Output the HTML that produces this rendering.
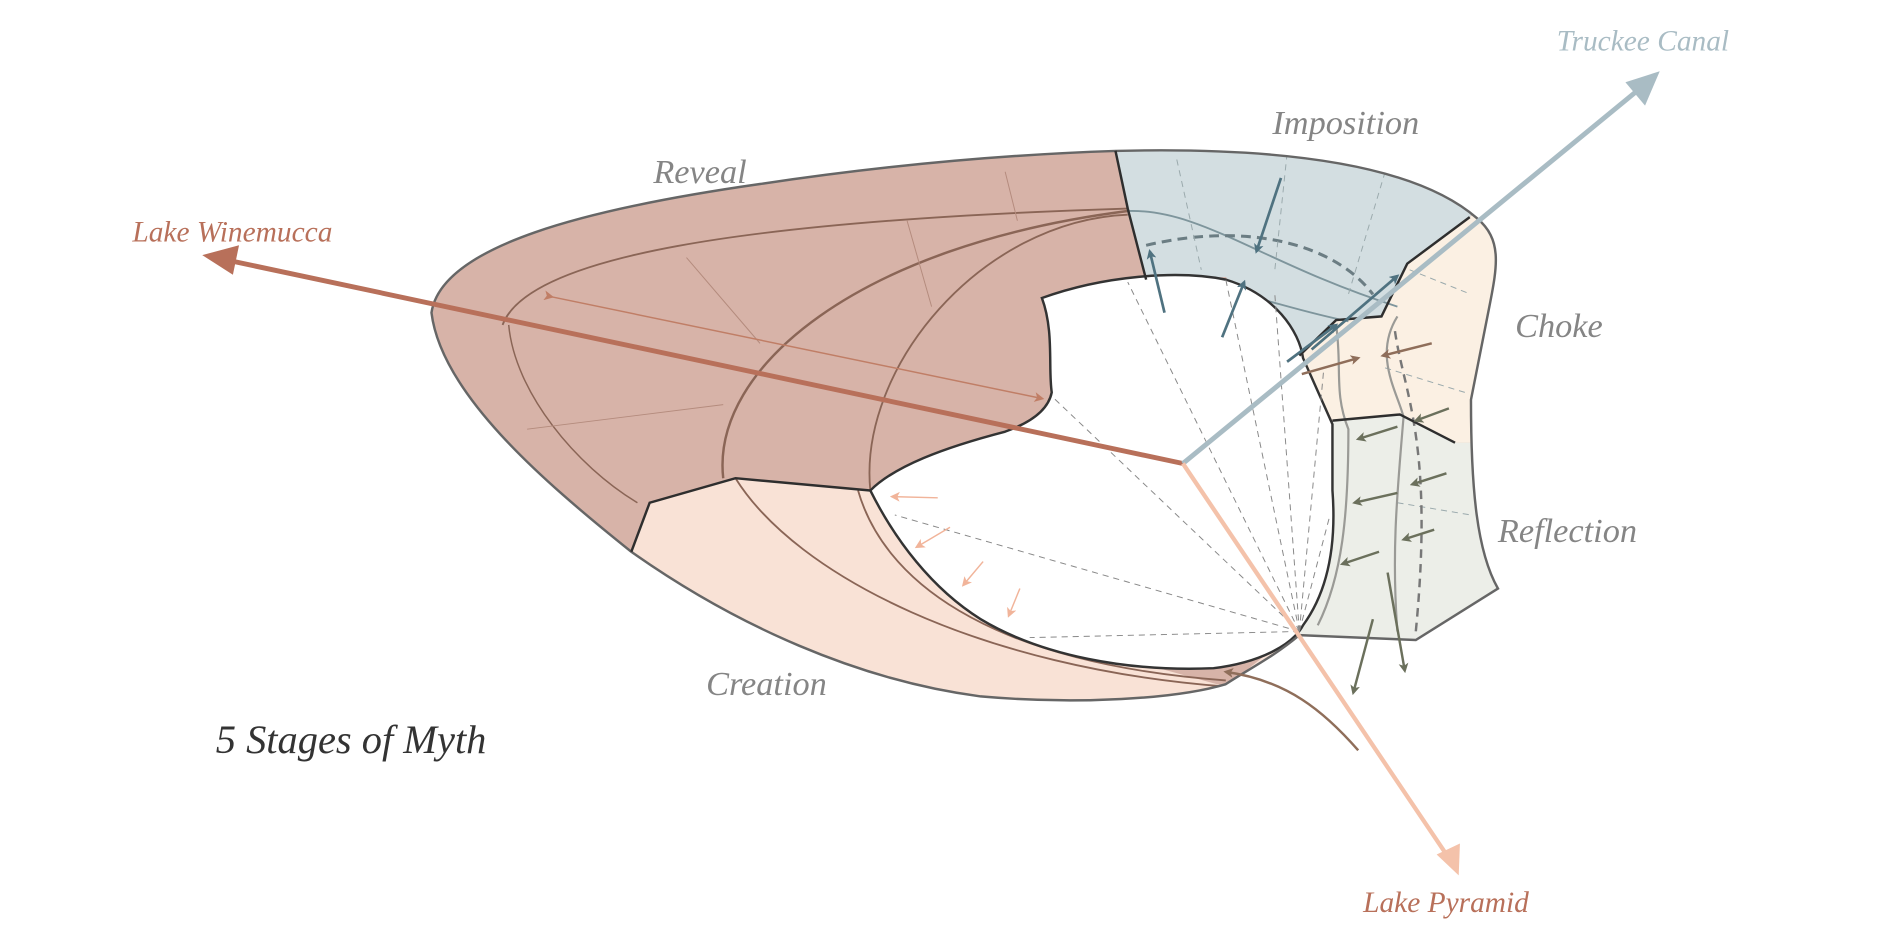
<!DOCTYPE html>
<html><head><meta charset="utf-8"><style>
html,body{margin:0;padding:0;background:#fff;}
svg{display:block;}
text{font-family:"Liberation Serif",serif;font-style:italic;}
</style></head><body>
<svg width="1900" height="927" viewBox="0 0 1550 756" xmlns="http://www.w3.org/2000/svg">
<defs>
<clipPath id="outer"><path d="M352,255 C360,200 480,170 620,150 C720,135 820,126 910,123 C1030,120 1150,130 1205,178 C1225,195 1222,215 1215,250 L1200,326 C1200,400 1205,450 1222,480 L1155,522 L1060,518 C1040,535 1020,545 1000,558 C960,570 880,575 800,568 C700,555 600,510 515,450 C440,390 360,320 352,255 Z"/></clipPath>
<marker id="ab" markerWidth="8" markerHeight="8" refX="6" refY="4" orient="auto" markerUnits="userSpaceOnUse" viewBox="0 0 8 8"><path d="M0,0 L8,4 L0,8 L2,4Z" fill="context-stroke"/></marker>
</defs>
<g clip-path="url(#outer)">
<rect x="300" y="80" width="1000" height="520" fill="#d7b3a8"/>
<polygon points="910,123 920,170 935,228 1000,226 1063,292 1090,262 1127,258 1148,215 1199,177 1260,100 900,60" fill="#d3dee1"/>
<polygon points="1199,177 1148,215 1127,258 1090,261 1060,290 1087,343 1142,338 1187,361 1300,361 1300,100" fill="#fbf0e3"/>
<polygon points="1087,343 1142,338 1187,361 1300,361 1300,620 1040,620 1047,516" fill="#eceee8"/>
<polygon points="380,450 515,450 530,410 600,390 710,400 800,505 1000,560 1063,510 1047,516 1040,620 380,620" fill="#f9e2d6"/>
<g fill="none" stroke="#8a6556" stroke-width="1.5">
<path d="M410,265 C430,210 600,180 920,170"/>
<path d="M415,265 C420,320 470,380 520,410" stroke-width="1.2"/>
<path d="M590,390 C580,300 700,200 920,172" stroke-width="2"/>
<path d="M710,400 C700,300 800,180 920,175" stroke-width="1.5"/>
<path d="M700,400 C720,470 800,540 1000,555" />
<path d="M600,390 C650,470 800,545 1000,560"/>
</g>
<g fill="none" stroke="#b48b7d" stroke-width="0.8">
<line x1="560" y1="210" x2="620" y2="280"/><line x1="820" y1="140" x2="830" y2="180"/>
<line x1="430" y1="350" x2="590" y2="330"/><line x1="740" y1="180" x2="760" y2="250"/>
</g>
<g fill="none" stroke="#7e959c" stroke-width="1.5">
<path d="M920,172 C980,170 1030,215 1140,250"/>
<path d="M935,230 C1000,230 1040,250 1100,262"/>
</g>
<path d="M935,200 C1020,180 1090,200 1120,240" fill="none" stroke="#6b7d83" stroke-width="2.5" stroke-dasharray="8,5"/>
<g stroke="#9aa9ac" stroke-width="0.8" stroke-dasharray="5,4" fill="none">
<line x1="960" y1="130" x2="980" y2="220"/><line x1="1050" y1="125" x2="1040" y2="220"/><line x1="1130" y1="140" x2="1100" y2="240"/>
<line x1="1150" y1="220" x2="1200" y2="240"/><line x1="1130" y1="300" x2="1195" y2="320"/><line x1="1140" y1="410" x2="1200" y2="420"/>
</g>
<g fill="none" stroke="#9a9a96" stroke-width="1.8">
<path d="M1140,258 C1120,290 1140,320 1145,340 C1140,400 1135,450 1140,515"/>
<path d="M1090,265 C1095,300 1088,320 1100,350 C1100,420 1095,470 1075,510"/>
</g>
<path d="M1138,270 C1145,320 1170,360 1155,515" fill="none" stroke="#777" stroke-width="2" stroke-dasharray="7,5"/>
</g>
<path d="M850,243 C860,270 855,300 858,320 C855,335 840,345 820,352 C770,365 730,380 710,400 C730,440 760,480 800,505 C850,535 920,548 990,545 C1030,540 1055,525 1063,510 C1085,480 1090,440 1087,400 L1087,346 L1063,292 C1060,270 1040,240 1000,228 C960,220 900,225 850,243 Z" fill="#fff" stroke="#333" stroke-width="2"/>
<g stroke="#888" stroke-width="0.8" stroke-dasharray="5,4" fill="none">
<line x1="1060" y1="515" x2="860" y2="325"/><line x1="1060" y1="515" x2="920" y2="230"/><line x1="1060" y1="515" x2="1000" y2="228"/>
<line x1="1060" y1="515" x2="1040" y2="240"/><line x1="1060" y1="515" x2="1080" y2="300"/><line x1="1060" y1="515" x2="730" y2="420"/>
<line x1="1060" y1="515" x2="840" y2="520"/><line x1="1060" y1="515" x2="1085" y2="420"/>
</g>
<path d="M352,255 C360,200 480,170 620,150 C720,135 820,126 910,123 C1030,120 1150,130 1205,178 C1225,195 1222,215 1215,250 L1200,326 C1200,400 1205,450 1222,480 L1155,522 L1060,518 C1040,535 1020,545 1000,558 C960,570 880,575 800,568 C700,555 600,510 515,450 C440,390 360,320 352,255 Z" fill="none" stroke="#666" stroke-width="2"/>
<g fill="none" stroke="#2e2e2e" stroke-width="2">
<polyline points="910,123 920,170 935,228"/>
<polyline points="515,450 530,410 600,390 710,400"/>
<polyline points="1199,177 1148,215 1127,258 1090,261 1060,290"/>
<polyline points="1087,343 1142,338 1187,361"/>
</g>
<line x1="965" y1="378" x2="185" y2="212" stroke="#b8705a" stroke-width="4"/>
<polygon points="165,208 195,200 190,224" fill="#b8705a"/>
<line x1="965" y1="378" x2="1338" y2="72" stroke="#a9bcc4" stroke-width="4"/>
<polygon points="1354,58 1342,86 1326,67" fill="#a9bcc4"/>
<line x1="965" y1="378" x2="1182" y2="700" stroke="#f4c2aa" stroke-width="3.5"/>
<polygon points="1190,714 1172,697 1191,688" fill="#f4c2aa"/>
<line x1="450" y1="242" x2="850" y2="325" stroke="#c07e66" stroke-width="1.2" marker-start="url(#ab)" marker-end="url(#ab)"/>
<g stroke="#4f7280" stroke-width="2.2" marker-end="url(#ab)">
<line x1="950" y1="255" x2="938" y2="205"/><line x1="997" y1="275" x2="1015" y2="230"/>
<line x1="1045" y1="145" x2="1025" y2="205"/><line x1="1050" y1="295" x2="1090" y2="265"/>
<line x1="1070" y1="285" x2="1140" y2="225"/>
</g>
<g stroke="#8f6e5a" stroke-width="2" marker-end="url(#ab)">
<line x1="1062" y1="305" x2="1108" y2="292"/><line x1="1168" y1="280" x2="1128" y2="290"/>
<path d="M1108,612 C1080,580 1050,555 1000,548" fill="none"/>
</g>
<g stroke="#6b705c" stroke-width="2" marker-end="url(#ab)">
<line x1="1182" y1="333" x2="1155" y2="343"/><line x1="1140" y1="348" x2="1108" y2="358"/>
<line x1="1180" y1="386" x2="1152" y2="395"/><line x1="1140" y1="402" x2="1105" y2="410"/>
<line x1="1170" y1="432" x2="1145" y2="440"/><line x1="1125" y1="450" x2="1095" y2="460"/>
<line x1="1120" y1="505" x2="1104" y2="565"/><line x1="1132" y1="467" x2="1146" y2="547"/>
</g>
<g stroke="#f1b49a" stroke-width="1.2" marker-end="url(#ab)">
<line x1="765" y1="406" x2="728" y2="405"/><line x1="775" y1="430" x2="748" y2="446"/>
<line x1="802" y1="458" x2="786" y2="477"/><line x1="832" y1="480" x2="823" y2="502"/>
</g>
<g fill="#858585" font-size="28">
<text x="533" y="149">Reveal</text>
<text x="1038" y="109">Imposition</text>
<text x="1236" y="275">Choke</text>
<text x="1222" y="442">Reflection</text>
<text x="576" y="567">Creation</text>
</g>
<text x="1270" y="41" fill="#a9bcc4" font-size="24">Truckee Canal</text>
<text x="108" y="197" fill="#b8705a" font-size="24">Lake Winemucca</text>
<text x="1112" y="744" fill="#b8705a" font-size="24">Lake Pyramid</text>
<text x="176" y="614" fill="#333" font-size="33">5 Stages of Myth</text>
</svg>
</body></html>
